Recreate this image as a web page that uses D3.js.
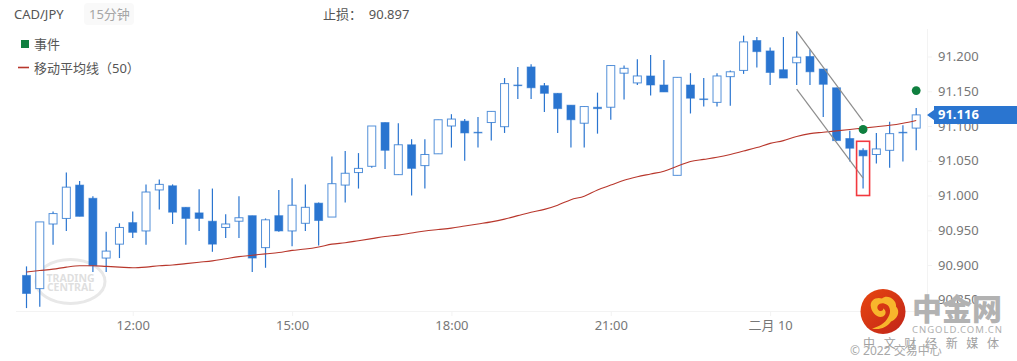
<!DOCTYPE html>
<html><head><meta charset="utf-8">
<script src="https://cdn.jsdelivr.net/npm/d3@7/dist/d3.min.js"></script>
<style>
html,body{margin:0;padding:0;background:#fff;overflow:hidden}
text{font-family:"Noto Sans","Noto Sans CJK SC",sans-serif}
</style></head><body>
<script>
const candleTop=[90.885,90.962,90.974,91.012,91.015,90.996,90.920,90.954,90.961,91.005,91.016,91.014,90.983,90.975,90.963,90.959,90.968,90.971,90.965,90.971,90.986,90.983,90.989,91.017,91.032,91.039,91.100,91.105,91.073,91.073,91.059,91.109,91.110,91.107,91.091,91.121,91.161,91.159,91.185,91.158,91.147,91.130,91.128,91.127,91.187,91.183,91.172,91.172,91.159,91.170,91.159,91.139,91.172,91.178,91.221,91.223,91.208,91.181,91.199,91.200,91.182,91.155,91.082,91.065,91.067,91.089,91.091,91.116];
const candleBottom=[90.859,90.866,90.959,90.967,90.970,90.899,90.910,90.930,90.947,90.949,91.008,90.976,90.967,90.967,90.930,90.954,90.963,90.910,90.925,90.949,90.949,90.960,90.964,90.969,91.015,91.033,91.042,91.065,91.030,91.039,91.043,91.060,91.100,91.090,91.090,91.105,91.099,91.158,91.155,91.147,91.125,91.109,91.104,91.125,91.127,91.176,91.162,91.159,91.149,91.029,91.140,91.138,91.134,91.171,91.180,91.207,91.177,91.169,91.191,91.178,91.160,91.079,91.068,91.057,91.059,91.065,91.090,91.097];
const highs=[90.898,90.962,90.977,91.033,91.021,90.999,90.948,90.960,90.977,91.016,91.023,91.016,90.983,91.009,91.010,90.973,90.999,90.971,90.967,91.008,91.025,91.016,90.990,91.056,91.064,91.061,91.100,91.105,91.104,91.081,91.081,91.109,91.117,91.110,91.113,91.121,91.169,91.185,91.189,91.162,91.147,91.130,91.128,91.148,91.187,91.187,91.196,91.202,91.195,91.170,91.176,91.169,91.176,91.180,91.230,91.228,91.213,91.228,91.236,91.210,91.182,91.155,91.093,91.068,91.090,91.106,91.101,91.126];
const lows=[90.838,90.840,90.929,90.949,90.970,90.890,90.890,90.910,90.939,90.929,90.980,90.959,90.929,90.949,90.919,90.939,90.939,90.890,90.896,90.948,90.927,90.949,90.928,90.969,90.990,91.010,91.040,91.038,91.030,91.000,91.010,91.060,91.069,91.050,91.069,91.079,91.090,91.139,91.139,91.120,91.090,91.069,91.069,91.089,91.109,91.138,91.159,91.144,91.149,91.029,91.118,91.128,91.128,91.129,91.175,91.184,91.159,91.169,91.159,91.159,91.113,91.079,91.049,91.010,91.046,91.040,91.049,91.065];
const filled=[1,0,0,0,1,1,0,0,1,0,0,1,1,1,1,0,0,1,0,1,0,0,1,0,0,0,0,1,0,1,0,0,0,1,1,0,0,1,1,1,1,1,0,1,0,0,0,1,1,0,1,1,0,0,0,1,1,1,0,1,1,1,1,1,0,0,1,0];
const movingAvg=[90.890,90.892,90.894,90.897,90.899,90.899,90.898,90.897,90.896,90.897,90.899,90.900,90.902,90.904,90.906,90.909,90.912,90.914,90.916,90.918,90.921,90.923,90.926,90.930,90.932,90.935,90.938,90.941,90.943,90.946,90.949,90.951,90.953,90.956,90.959,90.962,90.966,90.971,90.976,90.980,90.986,90.994,90.999,91.008,91.015,91.022,91.027,91.031,91.035,91.042,91.049,91.052,91.055,91.059,91.064,91.069,91.075,91.079,91.085,91.089,91.091,91.093,91.095,91.097,91.099,91.101,91.104,91.108];
const priceTicks=[91.2,91.15,91.1,91.05,91.0,90.95,90.9,90.85];
const timeTickIndex=[8,20,32,44,56];
const timeTickLabels=["12:00","15:00","18:00","21:00","二月 10"];
const eventPoints=[[63,91.095],[67,91.151]];
const wedgeUpper=[[58,91.236],[63,91.107]];
const wedgeLower=[[58,91.153],[63,91.025]];
const highlightBox={index:63,top:91.078,bottom:91.000};
const lastPrice=91.116;
const stopLoss="90.897";

const W=1017,H=361,blue="#2a75d0";
const svg=d3.select("body").append("svg").attr("width",W).attr("height",H).style("display","block");
const x=d3.scaleLinear().domain([0,67]).range([26.5,916.2]);
const y=d3.scaleLinear().domain([91.2,90.85]).range([56.5,299.75]);
const axisBottomY=311, axisRightX=927;

// axes
const gx=svg.append("g").attr("transform",`translate(0,${axisBottomY})`)
  .call(d3.axisBottom(x).tickValues(timeTickIndex).tickFormat((d,i)=>timeTickLabels[i]).tickSize(5).tickPadding(5));
gx.select(".domain").remove();
svg.append("line").attr("x1",16).attr("x2",axisRightX).attr("y1",axisBottomY+.5).attr("y2",axisBottomY+.5).attr("stroke","#f3f3f3");
gx.selectAll(".tick line").attr("stroke","#f3f3f3");
gx.selectAll("text").attr("font-size",13).attr("fill","#777");
const gy=svg.append("g").attr("transform",`translate(${axisRightX},0)`)
  .call(d3.axisRight(y).tickValues(priceTicks).tickFormat(d3.format(".3f")).tickSize(5).tickPadding(6));
gy.select(".domain").remove();
svg.append("line").attr("x1",axisRightX+.5).attr("x2",axisRightX+.5).attr("y1",29).attr("y2",axisBottomY).attr("stroke","#f3f3f3");
gy.selectAll(".tick line").attr("stroke","#f3f3f3");
gy.selectAll("text").attr("font-size",13).attr("fill","#777");

// watermark
const wm=svg.append("g").attr("transform","translate(70.5,281.5)");
wm.append("ellipse").attr("rx",34.5).attr("ry",22).attr("fill","none").attr("stroke","#e8e8e8").attr("stroke-width",3);
wm.append("text").attr("text-anchor","middle").attr("y",0).attr("font-size",10.5).attr("font-weight",700).attr("fill","#dfdfdf").text("TRADING");
wm.append("text").attr("text-anchor","middle").attr("y",9.5).attr("font-size",10.5).attr("font-weight",700).attr("fill","#dfdfdf").text("CENTRAL");

// candles
const idx=d3.range(candleTop.length);
svg.append("g").selectAll("line").data(idx).join("line")
  .attr("x1",i=>x(i)).attr("x2",i=>x(i)).attr("y1",i=>y(highs[i])).attr("y2",i=>y(lows[i]))
  .attr("stroke",blue).attr("stroke-width",1.2);
const bw=8;
svg.append("g").selectAll("rect").data(idx).join("rect")
  .attr("x",i=>x(i)-bw/2).attr("width",bw)
  .attr("y",i=>y(candleTop[i])).attr("height",i=>Math.max(.6,y(candleBottom[i])-y(candleTop[i])))
  .attr("fill",i=>filled[i]?blue:"#fff").attr("stroke",blue).attr("stroke-width",1)
  .attr("stroke-opacity",i=>filled[i]?.55:.8);

// moving average
svg.append("path").datum(movingAvg)
  .attr("d",d3.line().x((d,i)=>x(i)).y(d=>y(d)).curve(d3.curveMonotoneX))
  .attr("fill","none").attr("stroke","#b8372c").attr("stroke-width",1.1);

// wedge
const wedge=d3.line().x(d=>x(d[0])).y(d=>y(d[1]));
[wedgeUpper,wedgeLower].forEach(w=>svg.append("path").attr("d",wedge(w)).attr("stroke","#8d8d8d").attr("stroke-width",1.2).attr("fill","none"));

// highlight
svg.append("rect").attr("x",x(highlightBox.index)-6.5).attr("width",13)
  .attr("y",y(highlightBox.top)).attr("height",y(highlightBox.bottom)-y(highlightBox.top))
  .attr("fill","none").attr("stroke","#f2393f").attr("stroke-width",1.6);

// events
svg.append("g").selectAll("circle").data(eventPoints).join("circle")
  .attr("cx",d=>x(d[0])).attr("cy",d=>y(d[1])).attr("r",4.4).attr("fill","#0f7f3f");

// price flag
const py=y(lastPrice);
svg.append("path").attr("d",`M927,${py} L934,${py-5} L934,${py-9} L1017,${py-9} L1017,${py+9} L934,${py+9} L934,${py+5} Z`).attr("fill",blue);
svg.append("text").attr("x",938).attr("y",py+4.5).attr("font-size",13).attr("font-weight",700).attr("fill","#fff").text(d3.format(".3f")(lastPrice));

// header
svg.append("text").attr("x",14).attr("y",19).attr("font-size",13).attr("fill","#555").text("CAD/JPY");
svg.append("rect").attr("x",84).attr("y",3).attr("width",50).attr("height",22).attr("rx",4).attr("fill","#f9f9f9");
svg.append("text").attr("x",89).attr("y",19).attr("font-size",13).attr("fill","#a5a5a5").text("15分钟");
svg.append("text").attr("x",323).attr("y",19).attr("font-size",13).attr("fill","#555").text("止损：  "+stopLoss).attr("xml:space","preserve");

// legend
svg.append("rect").attr("x",21).attr("y",40).attr("width",8).attr("height",8).attr("fill","#0f7f3f");
svg.append("text").attr("x",34).attr("y",49).attr("font-size",13).attr("fill","#555").text("事件");
svg.append("line").attr("x1",18).attr("x2",29).attr("y1",67.5).attr("y2",67.5).attr("stroke","#b8372c").attr("stroke-width",1.6);
svg.append("text").attr("x",34).attr("y",73).attr("font-size",13).attr("fill","#555").text("移动平均线（50）");

// logo
const defs=svg.append("defs");
const g1=defs.append("linearGradient").attr("id","lg").attr("x1","0").attr("y1","0").attr("x2","1").attr("y2","1");
g1.append("stop").attr("offset","0").attr("stop-color","#e8470f");
g1.append("stop").attr("offset","1").attr("stop-color","#c0241a");
const logo=svg.append("g").attr("transform","translate(883,311.5)");
logo.append("circle").attr("r",22.5).attr("fill","url(#lg)");
logo.append("path").attr("d","M-12,-4 C-14,-12 -6,-15 -1,-13 C4,-18 14,-12 13,-5 C18,0 14,8 8,10 C4,16 -4,19 -11,17 C-4,15 2,12 5,6 C9,0 7,-7 1,-8 C-4,-9 -7,-5 -5,-2 C-3,1 1,-1 0,-3 C3,-2 4,3 0,5 C-6,7 -11,1 -12,-4 Z").attr("fill","#f8b62c");
svg.append("text").attr("x",912).attr("y",320).attr("font-size",30).attr("font-weight",900).attr("fill","#b2b2b2").attr("style",'font-family:"Noto Sans CJK SC",sans-serif').text("中金网");
svg.append("text").attr("x",912).attr("y",333).attr("font-size",9.5).attr("textLength",90).attr("fill","#b0b0b0").text("CNGOLD.COM.CN");
svg.append("text").attr("x",863).attr("y",348).attr("font-size",12).attr("textLength",136).attr("fill","#a0a0a0").text("中文财经新媒体");
svg.append("text").attr("x",850).attr("y",355).attr("font-size",12).attr("fill","#a8a8a8").text("© 2022 交易中心");
</script>
</body></html>
